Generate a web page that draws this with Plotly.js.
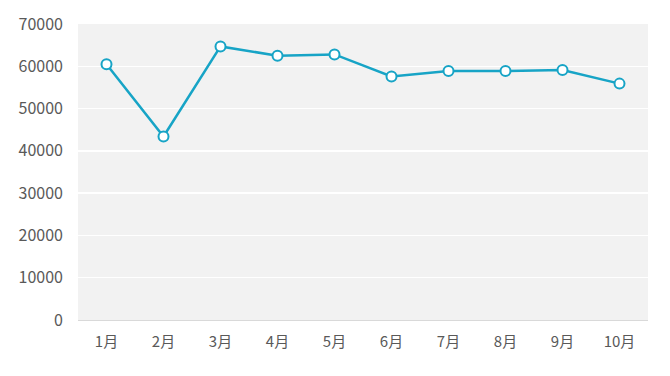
<!DOCTYPE html>
<html>
<head>
<meta charset="utf-8">
<script src="https://cdn.plot.ly/plotly-3.0.1.min.js"></script>
<style>html,body{margin:0;padding:0;background:#fff;}#chart{width:670px;height:376px;}</style>
</head>
<body>
<div id="chart"></div>
<script>
const months = ["1月","2月","3月","4月","5月","6月","7月","8月","9月","10月"];
const values = [60500, 43400, 64700, 62500, 62800, 57600, 58900, 58900, 59100, 55900];
const yTicks = [0, 10000, 20000, 30000, 40000, 50000, 60000, 70000];

const trace = {
  x: months,
  y: values,
  type: "scatter",
  mode: "lines+markers",
  line: {color: "#17a4c6", width: 2.5},
  marker: {size: 10, color: "#ffffff", line: {color: "#17a4c6", width: 2}},
  hoverinfo: "none"
};

const layout = {
  width: 670,
  height: 376,
  margin: {l: 78, r: 22, t: 24, b: 56},
  paper_bgcolor: "#ffffff",
  plot_bgcolor: "#f2f2f2",
  showlegend: false,
  font: {family: "'Noto Sans CJK SC', 'Open Sans', sans-serif", color: "#595959", size: 14},
  xaxis: {
    type: "category",
    range: [-0.5, 9.5],
    showgrid: false,
    zeroline: false,
    showline: true,
    linecolor: "#d9d9d9",
    linewidth: 1,
    ticks: "",
    tickfont: {size: 15, color: "#595959"},
    ticklabelstandoff: 8
  },
  yaxis: {
    range: [0, 70000],
    tickvals: yTicks,
    ticktext: yTicks.map(String),
    showgrid: true,
    gridcolor: "#ffffff",
    gridwidth: 1.5,
    zeroline: false,
    showline: false,
    ticks: "",
    tickfont: {size: 16, color: "#595959"},
    ticklabelstandoff: 14
  }
};

Plotly.newPlot("chart", [trace], layout, {displayModeBar: false, staticPlot: true});
</script>
</body>
</html>
